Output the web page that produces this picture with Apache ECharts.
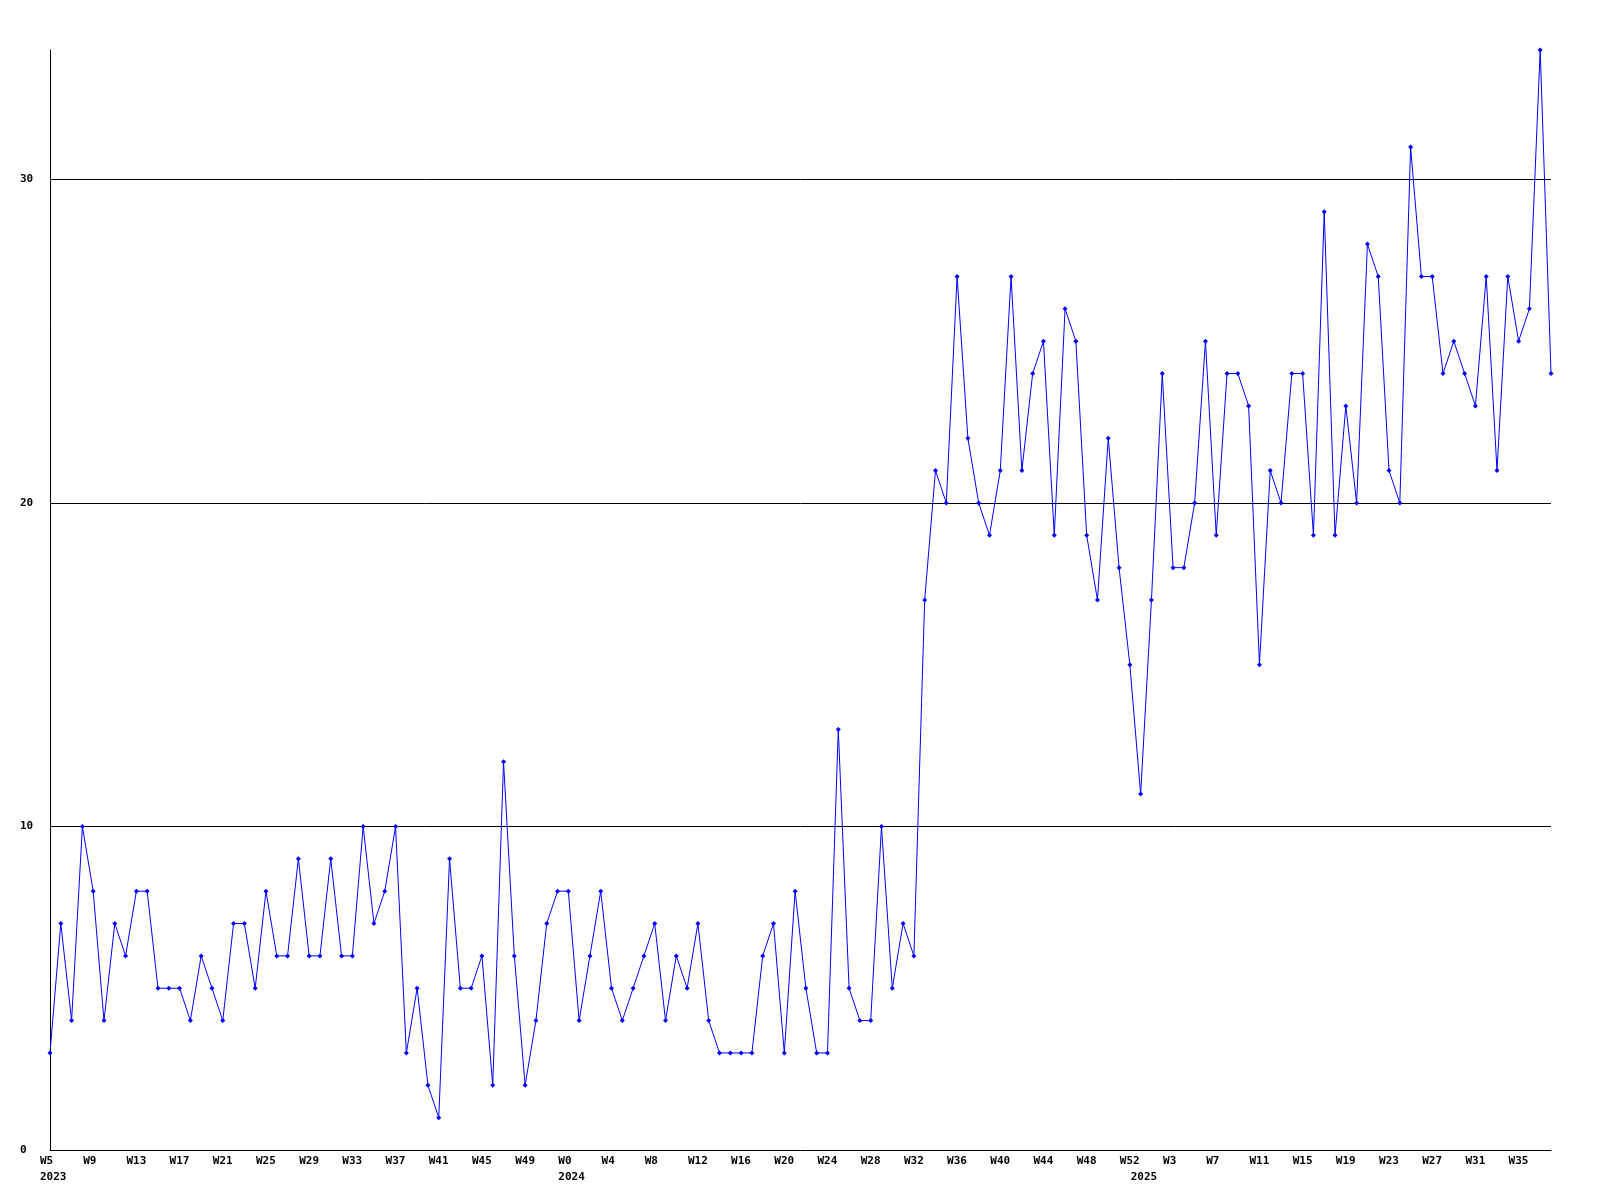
<!DOCTYPE html>
<html>
<head>
<meta charset="utf-8">
<script src="https://cdn.jsdelivr.net/npm/echarts@6/dist/echarts.min.js"></script>
<style>
html,body{margin:0;padding:0;background:#fff;}
#c{width:1600px;height:1200px;}
</style>
</head>
<body>
<div id="c"></div>
<script>
// Weekly values
const values2023 = [3,7,4,10,8,4,7,6,8,8,5,5,5,4,6,5,4,7,7,5,8,6,
  6,9,6,6,9,6,6,10,7,8,10,3,5,2,1,9,5,5,6,2,12,6,2,4,7,8]; // W5..W52
const values2024 = [8,4,6,8,5,4,5,6,7,4,6,5,7,4,3,3,3,3,6,7,3,8,5,3,3,13,5,4,4,10,5,7,6,
  17,21,20,27,22,20,19,21,27,21,24,25,19,26,25,19,17,22,18,15]; // W0..W52
const values2025 = [11,17,24,18,18,20,25,19,24,24,23,15,21,20,24,24,19,29,19,23,
  20,28,27,21,20,31,27,27,24,25,24,23,27,21,27,25,26,34,24]; // W0..W38

const firstWeek = {2023: 5, 2024: 0, 2025: 0};
const yearValues = {2023: values2023, 2024: values2024, 2025: values2025};
const yTicks = [0, 10, 20, 30];
const yMax = 34;

const categories = [];
const yearOf = [];
const values = [];
[2023, 2024, 2025].forEach(y => {
  yearValues[y].forEach((v, i) => {
    categories.push('W' + (firstWeek[y] + i));
    yearOf.push(y);
    values.push(v);
  });
});

const chart = echarts.init(document.getElementById('c'), null, {renderer: 'canvas'});
const font = '"DejaVu Sans Mono", "Liberation Mono", monospace';
chart.setOption({
  animation: false,
  backgroundColor: '#ffffff',
  grid: {left: 50, right: 49, top: 50, bottom: 50, containLabel: false},
  xAxis: {
    type: 'category',
    data: categories,
    boundaryGap: false,
    axisLine: {show: true, lineStyle: {color: '#000', width: 1}},
    axisTick: {show: false},
    splitLine: {show: false},
    axisLabel: {
      interval: 0,
      align: 'left',
      verticalAlign: 'top',
      margin: 3,
      padding: [0, 0, 0, -10],
      lineHeight: 16,
      color: '#000',
      fontFamily: font,
      fontWeight: 'bold',
      fontSize: 11,
      formatter: function (val, idx) {
        const wk = (idx % 4 === 0) ? val : '';
        const yr = (idx === 0 || yearOf[idx] !== yearOf[idx - 1]) ? String(yearOf[idx]) : '';
        return wk + '\n' + yr;
      }
    }
  },
  yAxis: {
    type: 'value',
    min: 0,
    max: yMax,
    interval: 10,
    axisLine: {show: true, lineStyle: {color: '#000', width: 1}},
    axisTick: {show: false},
    splitLine: {show: true, showMaxLine: false, showMinLine: false, lineStyle: {color: '#000', width: 1}},
    axisLabel: {
      showMaxLabel: false,
      align: 'left',
      margin: 30,
      color: '#000',
      fontFamily: font,
      fontWeight: 'bold',
      fontSize: 11,
      formatter: function (v) { return yTicks.indexOf(v) >= 0 ? String(v) : ''; }
    }
  },
  series: [{
    type: 'line',
    data: values,
    symbol: 'diamond',
    symbolSize: 5,
    showAllSymbol: true,
    lineStyle: {color: '#0000ff', width: 1},
    itemStyle: {color: '#0000ff'},
    emphasis: {disabled: true}
  }]
});
</script>
</body>
</html>
